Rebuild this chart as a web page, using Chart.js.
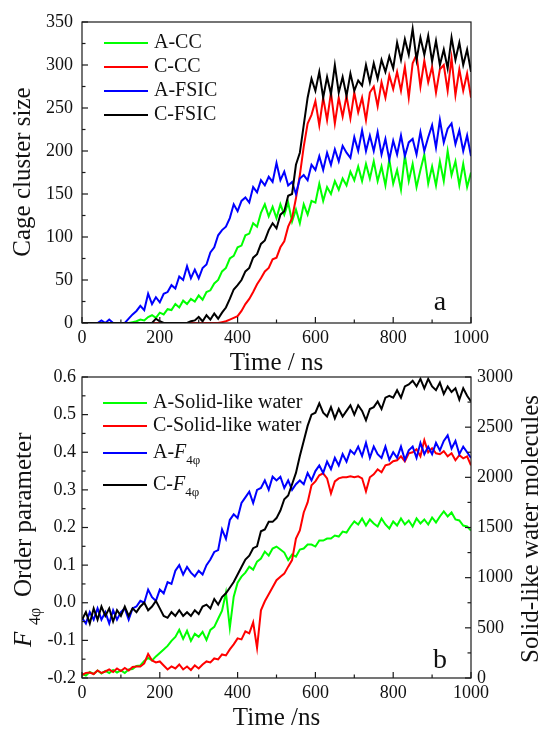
<!DOCTYPE html>
<html>
<head>
<meta charset="utf-8">
<script src="https://cdn.jsdelivr.net/npm/chart.js@4.4.1/dist/chart.umd.min.js"></script>
<style>
body { margin: 0; background: #fff; }
#marco { position: relative; width: 544px; height: 730px; overflow: hidden; }
canvas { position: absolute; left: 0; }
#canvaA { top: 0; }
#canvaB { top: 350px; }
</style>
</head>
<body>
<div id="marco">
  <canvas id="canvaA" width="544" height="380"></canvas>
  <canvas id="canvaB" width="544" height="380"></canvas>
</div>
<script>
// tiempo en ns, un punto cada 10 ns
const tiempo = Array.from({ length: 101 }, (_, i) => i * 10);

// Panel a: tamaño del cluster de cajas
const nombresA = ['A-CC', 'C-CC', 'A-FSIC', 'C-FSIC'];
const aCC = [
  0, 0, 0, 0, 0, 0, 0, 0, 0, 0, 0, 0, 0,
  1, 2, 4, 3, 7, 9, 6, 12, 10, 16,
  15, 22, 18, 26, 22, 28, 25, 32, 27, 36,
  38, 46, 50, 60, 64, 75, 78, 88, 90, 102,
  104, 116, 112, 128, 138, 124, 135, 122, 138, 126,
  140, 118, 132, 116, 138, 126, 142, 140, 162, 142,
  158, 150, 165, 155, 168, 160, 176, 166, 182, 165,
  185, 168, 188, 165, 182, 160, 190, 162, 178, 155,
  195, 165, 185, 158, 178, 196, 162, 182, 160, 188,
  165, 200, 172, 188, 160, 185, 158, 175
];
const cCC = [
  0, 0, 0, 0, 0, 0, 0, 0, 0, 0,
  0, 0, 0, 0, 0, 0, 0, 0, 0, 0,
  0, 0, 0, 0, 0, 0, 0, 0, 0, 0,
  0, 0, 0, 0, 0, 0,
  1, 2, 4, 6, 8, 14, 22, 28, 36, 45,
  52, 60, 64, 74, 76, 88, 95, 112, 122, 145,
  172, 205, 232, 242, 258, 230, 262, 236, 268, 232,
  262, 240, 264, 238, 268, 245, 262, 236, 268, 275,
  252, 280, 262, 288, 272, 292, 270, 298, 262, 302,
  312, 275, 305, 280, 298, 268, 295, 300, 270, 308,
  265, 295, 270, 290, 262
];
const aFSIC = [
  0, 0, 0, 0, 0, 3, 0, 4, 0, 0, 0, 0,
  5, 10, 14, 20, 15, 34, 22, 30, 24, 34,
  36, 44, 40, 54, 50, 66, 52, 62, 52, 64,
  68, 82, 88, 102, 108, 112, 122, 138, 130, 142,
  146, 140, 158, 152, 166, 160, 170, 164, 186, 166,
  176, 160, 164, 150, 168, 172, 166, 184, 178, 194,
  178, 198, 184, 202, 188, 206, 198, 192, 216, 200,
  224, 200, 218, 200, 222, 196, 214, 190, 212, 196,
  218, 194, 210, 214, 196, 222, 200, 216, 230, 204,
  236, 210, 226, 232, 208, 224, 200, 218, 194
];
const cFSIC = [
  0, 0, 0, 0, 0, 0, 0, 0, 0, 0,
  0, 0, 0, 0, 0, 0, 0, 0, 0, 5,
  2, 0, 0, 0, 0, 0, 0, 0, 2,
  3, 7, 2, 9, 4, 11, 5, 12, 18, 28,
  39, 44, 50, 60, 64, 76, 80, 92, 96, 108,
  116, 110, 126, 130, 148, 150, 184, 198, 230, 262,
  284, 270, 292, 262, 286, 266, 300, 268, 286, 264,
  290, 270, 282, 276, 300, 280, 302, 284, 306, 292,
  310, 296, 326, 306, 330, 312, 342, 306, 332, 312,
  334, 304, 328, 300, 318, 296, 332, 306, 326, 300,
  318, 292
];

// Panel b: parámetro de orden F4φ (eje izquierdo) y agua tipo sólido (eje derecho)
const nombresB = ['A-Solid-like water', 'C-Solid-like water', 'A-F4φ', 'C-F4φ'];
const aSolido = [
  40, 25, 60, 40, 75, 45, 70, 50, 80, 55,
  75, 50, 85, 90, 120, 125, 170, 200, 175, 215,
  250, 285, 320, 370, 410, 480, 390, 470, 370, 440,
  410, 460, 380, 480, 510, 590, 670, 850, 500, 810,
  950, 1010, 1050, 1110, 1080, 1160, 1190, 1260, 1220, 1290,
  1310, 1280, 1250, 1175, 1230, 1210, 1280, 1290, 1330, 1330,
  1310, 1370, 1370, 1390, 1390, 1420, 1410, 1460, 1450, 1510,
  1560, 1530, 1590, 1520, 1580, 1540, 1510, 1590, 1530, 1490,
  1560, 1520, 1590, 1530, 1570, 1510, 1590, 1540, 1580, 1530,
  1600, 1550, 1610, 1660, 1610, 1650, 1580, 1570, 1520, 1510,
  1470
];
const cSolido = [
  30, 50, 55, 40, 75, 50, 65, 85, 60, 95,
  70, 100, 75, 110, 115, 115, 145, 240, 175, 155,
  165, 125, 85, 115, 95, 135, 85, 115, 80, 125,
  95, 135, 165, 155, 195, 185, 235, 225, 285, 335,
  395, 385, 465, 445, 555, 300, 675, 765, 835, 905,
  975, 1010, 1040, 1110, 1175, 1390, 1470, 1650, 1750, 1920,
  1960, 2020, 2040, 1990, 1840, 1960, 1990, 2000, 2000, 2010,
  2000, 2010, 1990, 1860, 2000, 2030, 2080, 2050, 2120, 2130,
  2160, 2170, 2210, 2160, 2240, 2250, 2280, 2210, 2370, 2250,
  2290, 2240, 2230, 2260, 2210, 2240, 2170, 2220, 2190, 2210,
  2120
];
const aF4 = [
  -0.04, -0.055, -0.025, -0.045, -0.015, -0.045, -0.025, -0.055, -0.02, -0.045,
  -0.025, -0.015, -0.045, -0.015, -0.01, 0.005, 0.0, 0.035, 0.015, 0.005,
  0.035, 0.025, 0.055, 0.05, 0.085, 0.10, 0.075, 0.095, 0.08, 0.07,
  0.085, 0.075, 0.10, 0.115, 0.135, 0.14, 0.195, 0.17, 0.22, 0.235,
  0.225, 0.265, 0.28, 0.295, 0.265, 0.30, 0.305, 0.325, 0.30, 0.335,
  0.325, 0.335, 0.305, 0.325, 0.30, 0.315, 0.325, 0.315, 0.345, 0.325,
  0.35, 0.365, 0.345, 0.375, 0.355, 0.385, 0.365, 0.395, 0.375, 0.405,
  0.395, 0.415, 0.39, 0.425, 0.385, 0.415, 0.395, 0.385, 0.415, 0.38,
  0.40, 0.385, 0.415, 0.38, 0.405, 0.415, 0.385, 0.425, 0.395, 0.415,
  0.395, 0.425, 0.405, 0.43, 0.445, 0.41, 0.43, 0.395, 0.415, 0.40,
  0.385
];
const cF4 = [
  -0.045, -0.025, -0.055, -0.015, -0.045, -0.01, -0.035, -0.015, -0.05, -0.02,
  -0.035, -0.01, -0.035, -0.015, -0.025, -0.01, 0.0, -0.02, -0.01, 0.005,
  -0.015, -0.035, -0.04, -0.025, -0.035, -0.02, -0.035, -0.025, -0.035, -0.02,
  -0.03, -0.01, -0.005, -0.015, 0.01, -0.005, 0.015, 0.025, 0.04, 0.055,
  0.075, 0.095, 0.115, 0.125, 0.145, 0.15, 0.19, 0.195, 0.215, 0.215,
  0.225, 0.245, 0.275, 0.285, 0.315, 0.345, 0.39, 0.43, 0.47, 0.50,
  0.505, 0.53, 0.505, 0.495, 0.52, 0.49, 0.515, 0.495, 0.51, 0.525,
  0.50, 0.525, 0.51, 0.485, 0.515, 0.52, 0.535, 0.515, 0.545, 0.55,
  0.545, 0.565, 0.545, 0.575, 0.58, 0.59, 0.575, 0.595, 0.57, 0.595,
  0.575, 0.565, 0.585, 0.555, 0.575, 0.56, 0.57, 0.54, 0.57, 0.55,
  0.535
];

const colores = ['#00ff00', '#ff0000', '#0000ff', '#000000'];
const fuente = '"Liberation Serif", "Times New Roman", serif';

function puntos(valores) {
  return valores.map((v, i) => ({ x: tiempo[i], y: v }));
}

function serie(nombre, valores, i, eje) {
  return {
    label: nombre,
    data: puntos(valores),
    borderColor: colores[i],
    backgroundColor: colores[i],
    borderWidth: 2,
    pointRadius: 0,
    tension: 0,
    order: 4 - i,
    yAxisID: eje
  };
}

function linea(ctx, x1, y1, x2, y2) {
  ctx.beginPath();
  ctx.moveTo(x1, y1);
  ctx.lineTo(x2, y2);
  ctx.stroke();
}

// texto con cursiva y subíndice: partes [{t, tipo}] tipo n/i/s
function textoRico(ctx, partes, x, y, tam, bajada) {
  let cx = x;
  for (const p of partes) {
    let dy = 0;
    if (p.tipo === 'i') ctx.font = 'italic ' + tam + 'px ' + fuente;
    else if (p.tipo === 's') { ctx.font = Math.round(tam * 0.65) + 'px ' + fuente; dy = bajada; }
    else ctx.font = tam + 'px ' + fuente;
    ctx.fillText(p.t, cx, y + dy);
    cx += ctx.measureText(p.t).width;
  }
  return cx;
}

function partesEtiqueta(nombre) {
  if (nombre.endsWith('F4φ')) {
    return [{ t: nombre.slice(0, -3), tipo: 'n' }, { t: 'F', tipo: 'i' }, { t: '4φ', tipo: 's' }];
  }
  return [{ t: nombre, tipo: 'n' }];
}

const marcoPlugin = {
  id: 'marco',
  afterDatasetsDraw(chart, args, op) {
    const ctx = chart.ctx;
    const a = chart.chartArea;
    ctx.save();
    ctx.strokeStyle = '#1a1a1a';
    ctx.lineWidth = 1.2;
    ctx.strokeRect(a.left, a.top, a.right - a.left, a.bottom - a.top);

    // marcas hacia dentro
    const x = chart.scales.x;
    for (let k = 0; k <= 10; k++) {
      const px = x.getPixelForValue(k * 100);
      linea(ctx, px, a.bottom, px, a.bottom - (k % 2 === 0 ? 6 : 3.5));
    }
    for (const m of op.marcas) {
      const s = chart.scales[m.eje];
      for (let k = 0; k <= m.n; k++) {
        const py = s.getPixelForValue(m.min + k * m.paso);
        const largo = k % 2 === 0 ? 6 : 3.5;
        if (m.lado === 'izq') linea(ctx, a.left, py, a.left + largo, py);
        else linea(ctx, a.right, py, a.right - largo, py);
      }
    }

    // leyenda
    ctx.fillStyle = '#111';
    ctx.textBaseline = 'middle';
    ctx.textAlign = 'left';
    chart.data.datasets.forEach((d, i) => {
      const y = op.leyendaY[i];
      ctx.strokeStyle = d.borderColor;
      ctx.lineWidth = 2;
      linea(ctx, op.leyendaX[0], y, op.leyendaX[1], y);
      textoRico(ctx, partesEtiqueta(d.label), op.leyendaX[2], y, 20, 8);
    });

    // letra del panel
    ctx.font = '28px ' + fuente;
    ctx.textBaseline = 'alphabetic';
    ctx.textAlign = 'center';
    ctx.fillText(op.letra, x.getPixelForValue(920), op.letraY);

    // título eje x
    ctx.font = '25px ' + fuente;
    ctx.textBaseline = 'middle';
    ctx.fillText(op.tituloX, (a.left + a.right) / 2, op.tituloXY);

    // títulos verticales
    for (const t of op.titulosY) {
      ctx.save();
      ctx.translate(t.x, t.y);
      ctx.rotate(-Math.PI / 2);
      ctx.textAlign = t.alinear || 'center';
      ctx.textBaseline = 'middle';
      if (t.partes) {
        for (const p of t.partes) {
          if (p.tipo === 'i') ctx.font = 'italic 25px ' + fuente;
          else if (p.tipo === 's') ctx.font = '16px ' + fuente;
          else ctx.font = '25px ' + fuente;
          ctx.fillText(p.t, p.dx, p.tipo === 's' ? 12 : 0);
        }
      } else {
        ctx.font = '25px ' + fuente;
        ctx.fillText(t.texto, 0, 0);
      }
      ctx.restore();
    }
    ctx.restore();
  }
};

const sinComas = v => String(v);

function escalaX(alto) {
  return {
    type: 'linear', min: 0, max: 1000,
    grid: { display: false, drawTicks: false },
    border: { display: false },
    ticks: { stepSize: 200, autoSkip: false, maxRotation: 0, padding: 4, color: '#111',
      font: { family: fuente, size: 18 }, callback: sinComas },
    afterFit: s => { s.height = alto; }
  };
}

new Chart(document.getElementById('canvaA'), {
  type: 'line',
  data: {
    datasets: [
      serie(nombresA[0], aCC, 0, 'y'),
      serie(nombresA[1], cCC, 1, 'y'),
      serie(nombresA[2], aFSIC, 2, 'y'),
      serie(nombresA[3], cFSIC, 3, 'y')
    ]
  },
  options: {
    responsive: false,
    animation: false,
    layout: { padding: { top: 22, right: 73, left: 0, bottom: 0 } },
    scales: {
      x: escalaX(57),
      y: {
        min: 0, max: 350,
        grid: { display: false, drawTicks: false },
        border: { display: false },
        ticks: { stepSize: 50, padding: 9, color: '#111', font: { family: fuente, size: 18 }, callback: sinComas },
        afterFit: s => { s.width = 82; }
      }
    },
    plugins: {
      legend: { display: false },
      tooltip: { enabled: false },
      marco: {
        marcas: [{ eje: 'y', min: 0, paso: 25, n: 14, lado: 'izq' }],
        leyendaX: [104, 148, 154],
        leyendaY: [43, 67, 91, 115],
        letra: 'a', letraY: 310,
        tituloX: 'Time / ns', tituloXY: 363,
        titulosY: [{ texto: 'Cage cluster size', x: 23, y: 172 }]
      }
    }
  },
  plugins: [marcoPlugin]
});

new Chart(document.getElementById('canvaB'), {
  type: 'line',
  data: {
    datasets: [
      serie(nombresB[0], aSolido, 0, 'y2'),
      serie(nombresB[1], cSolido, 1, 'y2'),
      serie(nombresB[2], aF4, 2, 'y'),
      serie(nombresB[3], cF4, 3, 'y')
    ]
  },
  options: {
    responsive: false,
    animation: false,
    layout: { padding: { top: 27, right: 0, left: 0, bottom: 0 } },
    scales: {
      x: escalaX(52),
      y: {
        position: 'left',
        min: -0.2, max: 0.6,
        grid: { display: false, drawTicks: false },
        border: { display: false },
        ticks: { stepSize: 0.1, padding: 6, color: '#111', font: { family: fuente, size: 18 },
          callback: v => v.toFixed(1) },
        afterFit: s => { s.width = 82; }
      },
      y2: {
        position: 'right',
        min: 0, max: 3000,
        grid: { display: false, drawTicks: false },
        border: { display: false },
        ticks: { stepSize: 500, padding: 6, color: '#111', font: { family: fuente, size: 18 }, callback: sinComas },
        afterFit: s => { s.width = 73; }
      }
    },
    plugins: {
      legend: { display: false },
      tooltip: { enabled: false },
      marco: {
        marcas: [
          { eje: 'y', min: -0.2, paso: 0.05, n: 16, lado: 'izq' },
          { eje: 'y2', min: 0, paso: 250, n: 12, lado: 'der' }
        ],
        leyendaX: [103, 147, 153],
        leyendaY: [53, 76, 103, 135],
        letra: 'b', letraY: 318,
        tituloX: 'Time /ns', tituloXY: 368,
        titulosY: [
          { x: 24, y: 297, alinear: 'left', partes: [
            { t: 'F', tipo: 'i', dx: 0 },
            { t: '4φ', tipo: 's', dx: 22 },
            { t: 'Order parameter', tipo: 'n', dx: 50 }
          ] },
          { texto: 'Solid-like water molecules', x: 531, y: 179 }
        ]
      }
    }
  },
  plugins: [marcoPlugin]
});
</script>
</body>
</html>
